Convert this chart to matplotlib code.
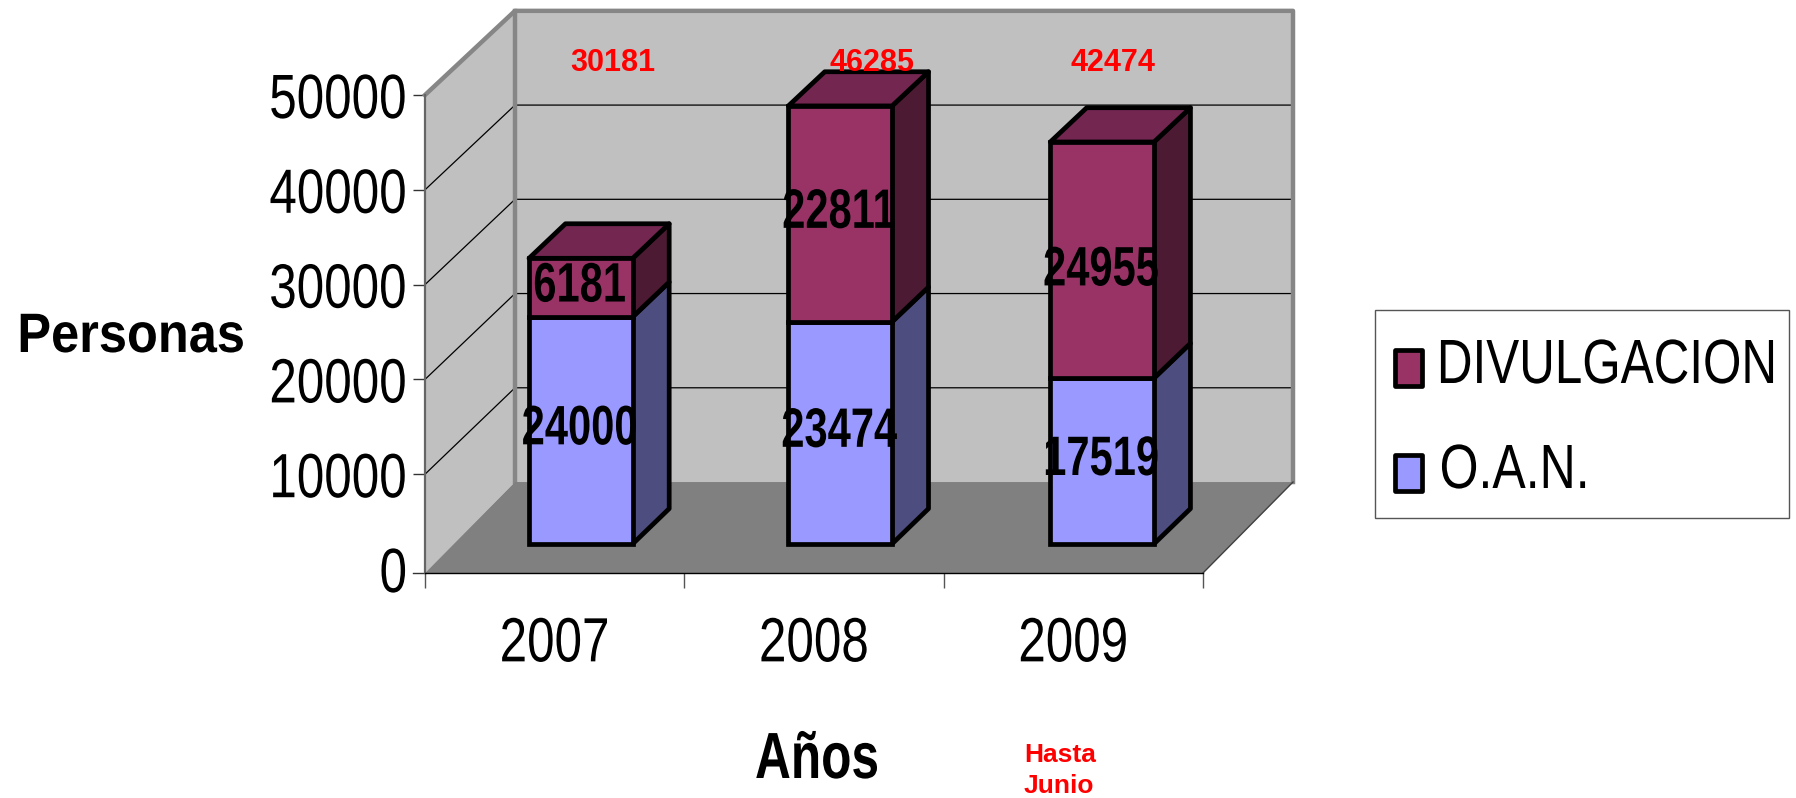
import numpy as np
import matplotlib
matplotlib.use("Agg")
import matplotlib.pyplot as plt
from matplotlib.patches import Rectangle
from matplotlib.patheffects import AbstractPathEffect
from matplotlib.transforms import Affine2D

years = ["2007", "2008", "2009"]
oan = [24000, 23474, 17519]
divulgacion = [6181, 22811, 24955]
totals = [30181, 46285, 42474]
y_ticks = [0, 10000, 20000, 30000, 40000, 50000]
series_names = ["DIVULGACION", "O.A.N."]

W, H = 1796, 798
plt.rcParams["font.family"] = ["Liberation Sans", "DejaVu Sans"]

# depth of the fake 3d box, in data units
FLOOR = -420
DX = 90 / (778 / 3)
DY = 87 * (50000 - FLOOR) / 478
SHRINK = 0.006
BAR_D0 = 0.32
BAR_D1 = 0.725
BAR_W = 0.40
LIFT = FLOOR * (1 - BAR_D0)
LINE = 3.4


class Condense(AbstractPathEffect):
    """Squeeze text sideways, no narrow font is installed."""

    def __init__(self, sx, align="center"):
        super().__init__()
        self.sx = sx
        self.align = align

    def draw_path(self, renderer, gc, tpath, affine, rgbFace=None):
        ext = tpath.get_extents()
        anchor = {"center": (ext.x0 + ext.x1) / 2, "right": ext.x1, "left": ext.x0}[self.align]
        local = Affine2D().translate(-anchor, 0).scale(self.sx, 1).translate(anchor, 0)
        renderer.draw_path(gc, tpath, local + affine, rgbFace)


def proj(x, v, d):
    """Move a point from the front plane d=0 to the back wall d=1."""
    return np.asarray(x) + d * DX, np.asarray(v) * (1 - SHRINK * d) + d * DY


def face(ax, pts, color, z, edge=None, lw=0):
    xs, ys = zip(*[proj(*p) for p in pts])
    ax.fill(xs, ys, facecolor=color, edgecolor=edge if edge else color, lw=lw,
            zorder=z, clip_on=False, joinstyle="round")


fig = plt.figure(figsize=(W / 100, H / 100), dpi=100)
ax = fig.add_axes([425 / W, 1 - 573 / H, 778 / W, 478 / H])
ax.set_xlim(0, 3)
ax.set_ylim(FLOOR, y_ticks[-1])
ax.patch.set_visible(False)

# walls and floor
top = y_ticks[-1]
face(ax, [(0, FLOOR, 0), (0, top, 0), (0, top, 1), (0, 0, 1)], "#C0C0C0", 1)
face(ax, [(0, 0, 1), (0, top, 1), (3, top, 1), (3, 0, 1)], "#C0C0C0", 1)
for v in y_ticks[1:-1]:
    x0, y0 = proj(0, v, 0)
    x1, y1 = proj(0, v, 1)
    x2, y2 = proj(3, v, 1)
    ax.plot([x0, x1, x2], [y0, y1, y2], color="black", lw=0.9, zorder=2, clip_on=False)
wall_x, wall_y = zip(*[proj(*p) for p in [(0, top, 0), (0, top, 1), (3, top, 1), (3, 0, 1)]])
ax.plot(wall_x, wall_y, color="#868686", lw=3.2, zorder=3, clip_on=False, solid_joinstyle="round")
back_x, back_y = zip(*[proj(*p) for p in [(0, top, 1), (0, 0, 1)]])
ax.plot(back_x, back_y, color="#868686", lw=3.2, zorder=3, clip_on=False)
face(ax, [(0, FLOOR, 0), (3, FLOOR, 0), (3, 0, 1), (0, 0, 1)], "#808080", 4)
edge_x, edge_y = zip(*[proj(*p) for p in [(3, FLOOR, 0), (3, 0, 1)]])
ax.plot(edge_x, edge_y, color="#404040", lw=1, zorder=4, clip_on=False)

# stacked boxes, drawn from their data
centers = np.array([0.49, 1.49, 2.5])
oan = np.array(oan)
divulgacion = np.array(divulgacion)
stack = oan + divulgacion

for c, mv, hv in zip(centers, oan, stack):
    l, r = c - BAR_W / 2, c + BAR_W / 2
    lo, mv, hv = LIFT, mv + LIFT, hv + LIFT
    face(ax, [(r, lo, BAR_D0), (r, mv, BAR_D0), (r, mv, BAR_D1), (r, lo, BAR_D1)],
         "#4D4D80", 5, "black", LINE)
    face(ax, [(r, mv, BAR_D0), (r, hv, BAR_D0), (r, hv, BAR_D1), (r, mv, BAR_D1)],
         "#4D1A33", 5, "black", LINE)
    face(ax, [(l, hv, BAR_D0), (r, hv, BAR_D0), (r, hv, BAR_D1), (l, hv, BAR_D1)],
         "#732650", 5, "black", LINE)

bx, base = proj(centers, np.full(3, LIFT), BAR_D0)
_, mid = proj(centers, oan + LIFT, BAR_D0)
_, tip = proj(centers, stack + LIFT, BAR_D0)
edge = dict(edgecolor="black", linewidth=LINE, clip_on=False)
ax.bar(bx, mid - base, BAR_W, bottom=base, color="#9999FF", zorder=6, **edge)
ax.bar(bx, tip - mid, BAR_W, bottom=mid, color="#993366", zorder=6, **edge)

# the third top label sits lower than the middle of its box in the original
div_nudge = [0, 0, -1200]
label_fx = [Condense(0.75)]
for x, b, m, t, a, d, n in zip(bx, base, mid, tip, oan, divulgacion, div_nudge):
    ax.text(x - 0.005, (b + m) / 2, str(a), ha="center", va="center", fontweight="bold",
            fontsize=40, zorder=8, clip_on=False, path_effects=label_fx)
    ax.text(x - 0.005, (m + t) / 2 + n, str(d), ha="center", va="center", fontweight="bold",
            fontsize=40, zorder=8, clip_on=False, path_effects=label_fx)

# red totals sit in a row near the top of the back wall
for x, t in zip([613, 872, 1113], totals):
    fig.text(x / W, 1 - 63 / H, str(t), color="#FF0000", fontweight="bold",
             fontsize=22, ha="center", va="center", zorder=9)

# axes
for s in ["top", "right"]:
    ax.spines[s].set_visible(False)
ax.spines["left"].set_color("#666666")
ax.spines["left"].set_linewidth(1.6)
ax.spines["left"].set_zorder(5)
ax.spines["bottom"].set_color("black")
ax.spines["bottom"].set_linewidth(1)
ax.spines["bottom"].set_zorder(5)

ax.set_yticks(y_ticks)
ax.set_yticklabels([str(v) for v in y_ticks], fontsize=45,
                   path_effects=[Condense(0.79, "right")])
ax.tick_params(axis="y", length=8.5, width=1, color="#333333", pad=4)
# the zero tick lines up with the front edge of the floor, not with its own label
ax.yaxis.get_major_ticks()[0].tick1line.set_visible(False)
ax.plot([-12 / (778 / 3), 0], [FLOOR, FLOOR], color="#333333", lw=1, clip_on=False, zorder=5)
ax.set_xticks(np.arange(4))
ax.set_xticklabels([])
ax.tick_params(axis="x", which="major", length=11, width=1, color="#555555")
ax.set_xticks(np.arange(3) + 0.5, minor=True)
ax.set_xticklabels(years, minor=True, fontsize=45, path_effects=[Condense(0.79)])
ax.tick_params(axis="x", which="minor", length=0, pad=30.5)

fig.text(17 / W, 1 - 338 / H, "Personas", fontweight="bold", fontsize=40,
         ha="left", va="center", path_effects=[Condense(0.91, "left")])
fig.text(817 / W, 1 - 778 / H, "Años", fontweight="bold", fontsize=47,
         ha="center", va="baseline", path_effects=[Condense(0.76)])
fig.text(1024 / W, 1 - 743 / H, "Hasta\nJunio", color="#FF0000",
         fontweight="bold", fontsize=19, ha="left", va="top", linespacing=1.35)

# legend box
fig.add_artist(Rectangle((1375 / W, 1 - 518 / H), 414 / W, 208 / H, transform=fig.transFigure,
                         facecolor="white", edgecolor="#555555", lw=1))
for y0, color in zip([386, 491], ["#993366", "#9999FF"]):
    fig.add_artist(Rectangle((1395 / W, 1 - y0 / H), 27 / W, 36 / H, transform=fig.transFigure,
                             facecolor=color, edgecolor="black", lw=LINE, joinstyle="round"))
fig.text(1778 / W, 1 - 383 / H, series_names[0], fontsize=45, ha="right", va="baseline",
         path_effects=[Condense(0.79, "right")])
fig.text(1439 / W, 1 - 488 / H, series_names[1], fontsize=45, ha="left", va="baseline",
         path_effects=[Condense(0.80, "left")])

fig.savefig("out.png", dpi=100)
